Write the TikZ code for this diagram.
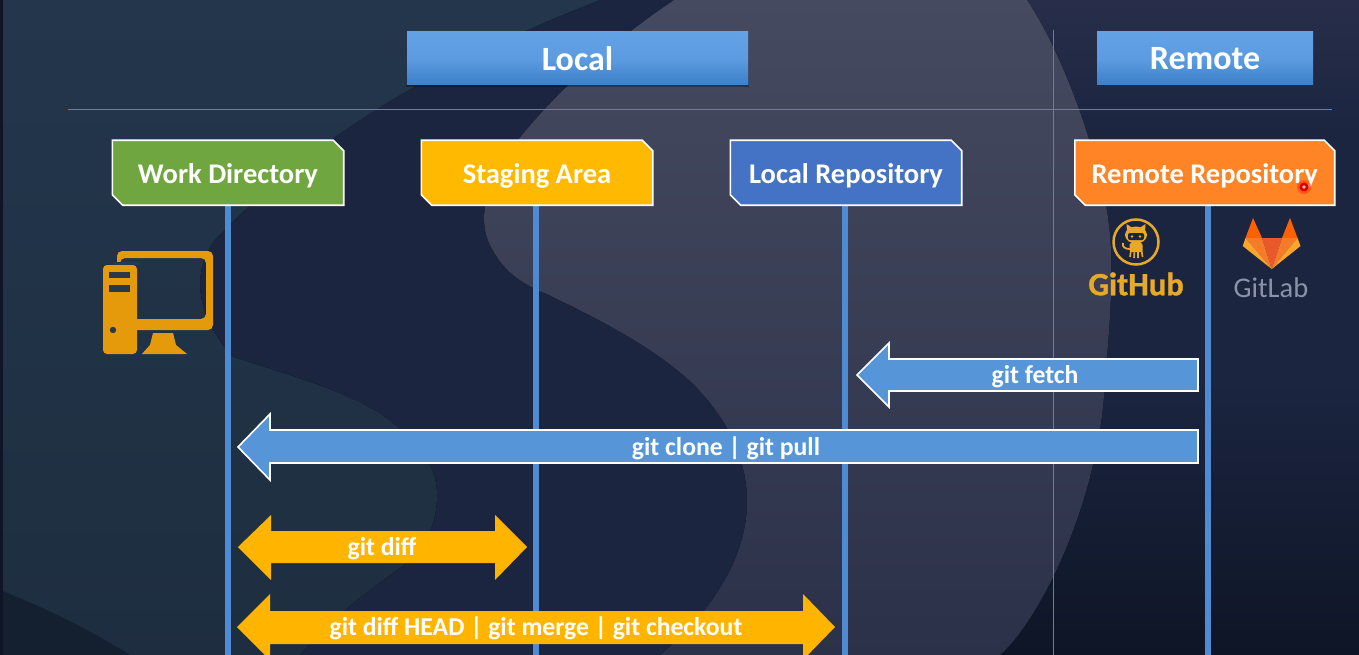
\documentclass[tikz,border=0pt]{standalone}
\usepackage{fontspec}
\setmainfont{Carlito}
\newfontfamily\heavyfont[FakeBold=1.2]{Carlito Bold}
\usetikzlibrary{calc,backgrounds}
\definecolor{bgtop}{HTML}{282E4A}
\definecolor{bgdark}{HTML}{1B2540}
\definecolor{bgbot}{HTML}{0E1526}
\definecolor{lefttop}{HTML}{23364C}
\definecolor{leftmid}{HTML}{27384F}
\definecolor{leftbot}{HTML}{1E2E40}
\definecolor{blobtop}{HTML}{454A60}
\definecolor{blobmid}{HTML}{3B4258}
\definecolor{blobbot}{HTML}{2B3149}
\definecolor{rulecol}{HTML}{4A86D0}
\definecolor{hdrtop}{HTML}{64A2E6}
\definecolor{hdrbot}{HTML}{3C80C8}
\definecolor{lifeline}{HTML}{4F8BD2}
\definecolor{arrowblue}{HTML}{5595D8}
\definecolor{arrowgold}{HTML}{FFB400}
\definecolor{wgreen}{HTML}{70A63F}
\definecolor{wyellow}{HTML}{FFB900}
\definecolor{wblue}{HTML}{4472C4}
\definecolor{worange}{HTML}{FF8426}
\definecolor{pcgold}{HTML}{E59A0B}
\definecolor{ghgold}{HTML}{E8A828}
\definecolor{glgray}{HTML}{8A93A8}
\definecolor{glred}{HTML}{E9582A}
\definecolor{glmid}{HTML}{F47B2A}
\definecolor{gllow}{HTML}{FBA52B}
\tikzset{
  x=1pt,y=-1pt,
  hdrbox/.style={top color=hdrtop,bottom color=hdrbot,middle color=hdrtop!80!hdrbot,draw=none,minimum height=53pt,inner sep=0pt},
  hdrtext/.style={text=white,font=\bfseries\fontsize{34}{34}\selectfont,inner sep=0pt,yshift=-0.5pt},
  areagap/.style={draw=none,minimum height=64.5pt,inner sep=0pt},
  areabox/.style={draw=white,line width=1.6pt},
  areatext/.style={text=white,font=\bfseries\fontsize{28.5}{28.5}\selectfont,inner sep=0pt,yshift=-3pt},
  lifeln/.style={draw=lifeline,line width=6pt},
  arrowtext/.style={text=white,font=\bfseries\fontsize{25.7}{25.7}\selectfont,inner sep=0pt,yshift=-1.5pt},
  bluearrow/.style={fill=arrowblue,draw=white,line width=1.6pt,line join=miter},
  goldarrow/.style={fill=arrowgold,draw=none},
  rulelin/.style={draw=rulecol,line width=1.5pt},
}
\newcommand{\chamfer}[2]{%
  \draw[areabox,fill=#2] (#1.north west) -- ($(#1.north east)+(-10.5,0)$) -- ($(#1.north east)+(0,10.5)$) -- (#1.south east) -- ($(#1.south west)+(10.5,0)$) -- ($(#1.south west)+(0,-10.5)$) -- cycle;}
\begin{document}
\begin{tikzpicture}
\useasboundingbox (0,0) rectangle (1359,655);
% headers and box frames
\node[hdrbox,minimum width=341pt] (local) at (577.5,58.5) {};
\node[hdrbox,minimum width=216pt] (remote) at (1205,58.5) {};
\node[hdrtext] (localt) at (local) {Local};
\node[hdrtext] (remotet) at (remote) {Remote};
\node[areagap,minimum width=231pt] (wd) at (228,172.75) {};
\node[areagap,minimum width=231pt] (sa) at (537,172.75) {};
\node[areagap,minimum width=231pt] (lr) at (846,172.75) {};
\node[areagap,minimum width=259.5pt] (rr) at (1204.75,172.75) {};
\node[areatext] (wdt) at (wd) {Work Directory};
\node[areatext] (sat) at (sa) {Staging Area};
\node[areatext] (lrt) at (lr) {Local Repository};
\node[areatext] (rrt) at (rr) {Remote Repository};
\coordinate (wde) at (227.5,655);
\coordinate (sae) at (536,655);
\coordinate (lre) at (845,655);
\coordinate (rre) at (1208,655);
\coordinate (hl) at (68,109.5);
\coordinate (hr) at (1332,109.5);
\coordinate (vt) at (1053.5,30);
\coordinate (vb) at (1053.5,655);
\begin{pgfonlayer}{background}
\begin{scope}
\clip (0,0) rectangle (1359,655);
% background
\fill[bgdark] (0,0) rectangle (1359,655);
\fill[top color=bgtop,bottom color=bgdark] (674,0) rectangle (1359,135);
\fill[top color=bgdark,bottom color=bgbot] (900,380) rectangle (1359,655);
\fill[top color=lefttop,middle color=leftmid,bottom color=leftbot] (0,0) -- (600,0) .. controls (420,70) and (300,150) .. (215,240) .. controls (195,265) and (190,310) .. (233,357) .. controls (290,375) and (360,395) .. (393,423) .. controls (425,450) and (437,470) .. (437,495) .. controls (437,530) and (420,555) .. (393,573) .. controls (370,590) and (340,610) .. (300,655) -- (0,655) -- cycle;
\fill[bgbot,opacity=.6] (0,590) .. controls (50,610) and (90,630) .. (130,655) -- (0,655) -- cycle;
\fill[bgbot] (0,0) rectangle (2.5,655);
\fill[top color=blobtop,middle color=blobmid,bottom color=blobbot] (674,0) .. controls (600,50) and (550,100) .. (518,140) .. controls (490,175) and (475,215) .. (490,245) .. controls (505,275) and (525,285) .. (549,295) .. controls (600,320) and (650,345) .. (690,381) .. controls (725,415) and (747,455) .. (747,502) .. controls (747,550) and (720,605) .. (660,655) -- (1000,655) .. controls (1040,620) and (1100,500) .. (1105,380) .. controls (1112,300) and (1115,250) .. (1105,200) .. controls (1090,130) and (1060,50) .. (1027,0) -- cycle;
\end{scope}
% rules
\fill[rulecol] ($(hl)+(0,-0.8)$) rectangle ($(hr)+(0,0.8)$);
\fill[rulecol] ($(vt)+(-0.8,0)$) rectangle ($(vb)+(0.8,0)$);
\fill[black,opacity=.3] ($(local.south west)+(-1,0)$) rectangle ($(local.south east)+(1,2)$);
% lifelines
\draw[lifeln] (wde |- wd.south) -- (wde);
\draw[lifeln] (sae |- sa.south) -- (sae);
\draw[lifeln] (lre |- lr.south) -- (lre);
\draw[lifeln] (rre |- rr.south) -- (rre);
% area boxes
\chamfer{wd}{wgreen}
\chamfer{sa}{wyellow}
\chamfer{lr}{wblue}
\chamfer{rr}{worange}
\end{pgfonlayer}
% cursor mark
\fill[red!50!worange,opacity=.7] (1304,187) circle (7pt);
\fill[red!85!black] (1304,187) circle (4.5pt);
\fill[worange!50!white] (1304,187) circle (1.8pt);
% computer icon
\fill[pcgold,even odd rule,rounded corners=5pt] (117,251) rectangle (213,330) (120,258) rectangle (206,319);
\fill[leftmid] (114,262) rectangle (140,265);
\fill[pcgold,rounded corners=4pt] (103,265) rectangle (137,354);
\fill[leftmid] (109,272) rectangle (130,278);
\fill[leftmid] (109,285) rectangle (130,292);
\fill[leftmid] (113,330) circle (3.2pt);
\fill[pcgold] (153,333) -- (173,333) -- (176,345) -- (187,354) -- (142,354) -- (150,345) -- cycle;
% GitHub logo
\draw[draw=ghgold,line width=2.5pt] (1136,242) circle (22.5pt);
\fill[ghgold] (1136,235) ellipse (11pt and 8.5pt);
\fill[ghgold] (1126.5,224) -- (1132.5,228) -- (1127,232) -- cycle;
\fill[ghgold] (1145.5,224) -- (1139.5,228) -- (1145,232) -- cycle;
\fill[bgdark,rounded corners=2pt] (1128,233) rectangle (1144,240);
\fill[ghgold] (1132,236.5) circle (1.3pt);
\fill[ghgold] (1140,236.5) circle (1.3pt);
\fill[ghgold,rounded corners=2pt] (1129.5,243) rectangle (1142.5,252);
\draw[draw=ghgold,line width=1.6pt] (1131,250) -- (1130,257) (1134.5,250) -- (1134,258) (1138,250) -- (1138,258) (1141.5,250) -- (1142.5,257);
\draw[draw=ghgold,line width=1.8pt] (1130,249) .. controls (1125,249) and (1122,247) .. (1123,243);
\node[text=ghgold,font=\heavyfont\fontsize{32.5}{32.5}\selectfont,inner sep=0pt] (gh) at (1136,284) {GitHub};
% GitLab logo
\fill[orange!75!red] (1253,218) -- (1245.5,238) -- (1262,238) -- cycle;
\fill[orange!75!red] (1290,218) -- (1297.5,238) -- (1282,238) -- cycle;
\fill[glred] (1262,238) -- (1282,238) -- (1271.7,269) -- cycle;
\fill[glmid] (1245.5,238) -- (1262,238) -- (1271.7,269) -- cycle;
\fill[glmid] (1297.5,238) -- (1282,238) -- (1271.7,269) -- cycle;
\fill[gllow] (1245.5,238) -- (1242.7,246) -- (1271.7,269) -- cycle;
\fill[gllow] (1297.5,238) -- (1300.5,246) -- (1271.7,269) -- cycle;
\node[text=glgray,font=\fontsize{28.5}{28.5}\selectfont,inner sep=0pt] (gl) at (1271,288) {GitLab};
% arrows
\draw[bluearrow] (1198,359) -- (889,359) -- (889,343) -- (857,375) -- (889,407) -- (889,391) -- (1198,391) -- cycle;
\node[arrowtext] (fetch) at (1035,375.5) {git fetch};
\draw[bluearrow] (1198,430) -- (270,430) -- (270,414) -- (238,447) -- (270,480) -- (270,463) -- (1198,463) -- cycle;
\node[arrowtext] (clone) at (726,447) {git clone | git pull};
\fill[goldarrow] (238,547) -- (271,515) -- (271,531) -- (495,531) -- (495,515) -- (527,547) -- (495,580) -- (495,563) -- (271,563) -- (271,580) -- cycle;
\node[arrowtext] (diff) at (382,547) {git diff};
\fill[goldarrow] (237,627) -- (270,594) -- (270,611) -- (803,611) -- (803,594) -- (835,627) -- (803,660) -- (803,644) -- (270,644) -- (270,660) -- cycle;
\node[arrowtext] (head) at (536,627) {git diff HEAD | git merge | git checkout};
\end{tikzpicture}
\end{document}
